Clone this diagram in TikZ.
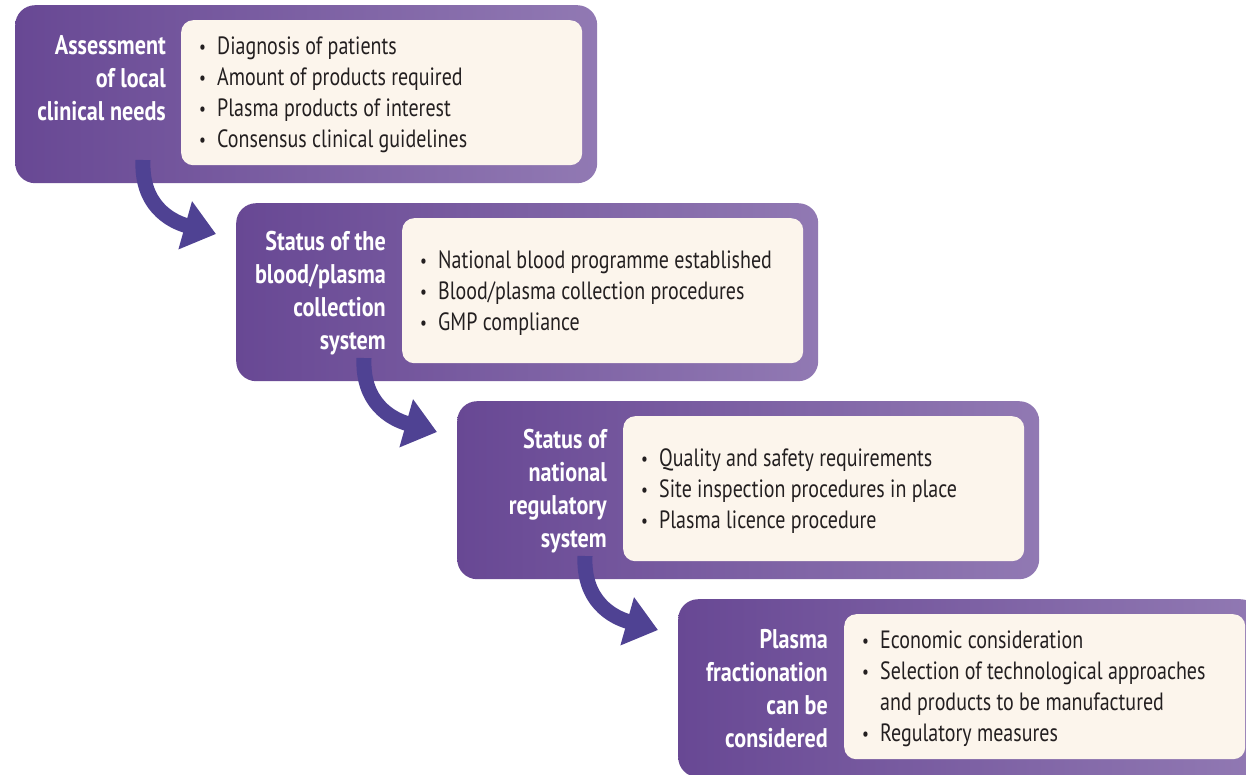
\documentclass[tikz,border=0pt]{standalone}
\usepackage{fontspec}
\setmainfont[FakeStretch=0.8]{PT Sans}
\newfontfamily\titlefont[FakeStretch=0.82]{PT Sans}
\usetikzlibrary{arrows.meta}
\definecolor{pdark}{RGB}{104,72,148}
\definecolor{plight}{RGB}{145,121,179}
\definecolor{cream}{RGB}{252,245,236}
\definecolor{arrowc}{RGB}{79,66,147}
\definecolor{txt}{RGB}{35,31,32}
\newcommand{\bitem}{\makebox[18pt][l]{\raisebox{1pt}{\fontsize{19}{19}\selectfont\textbullet}}}
\newcommand{\bcont}{\hspace*{18pt}}
\begin{document}
\begin{tikzpicture}[x=1pt,y=-1pt,
  outerbox/.style={rounded corners=20pt, left color=pdark, right color=plight, draw=none,
    minimum width=582pt, minimum height=178pt, anchor=north west, inner sep=0pt},
  innerbox/.style={rounded corners=12pt, fill=cream, draw=none,
    minimum width=401pt, minimum height=145pt, anchor=north west, inner sep=0pt},
  titletext/.style={font=\titlefont\fontsize{27}{33}\selectfont\bfseries, text=white, align=right, anchor=east, inner sep=0pt},
  listtext/.style={font=\fontsize{25}{31}\selectfont, text=txt, align=left, anchor=west, inner sep=0pt},
  flow/.style={draw=arrowc, line width=15pt, -{Triangle[length=32pt,width=48pt]}}]
\useasboundingbox (0,0) rectangle (1246,775);
\fill[white] (0,0) rectangle (1246,775);
\clip (0,0) rectangle (1246,775);

% stage 1
\node[outerbox] (b1) at (15,5) {};
\node[innerbox] (i1) at (181,20) {};
\node[titletext] (t1) at (166,78) {Assessment\\of local\\clinical needs};
\node[listtext] (l1) at (199,94.5) {\bitem Diagnosis of patients\\\bitem Amount of products required\\\bitem Plasma products of interest\\\bitem Consensus clinical guidelines};

% stage 2
\node[outerbox] (b2) at (236,203) {};
\node[innerbox] (i2) at (402,218) {};
\node[titletext] (t2) at (386,293) {Status of the\\blood/plasma\\collection\\system};
\node[listtext] (l2) at (420,293) {\bitem National blood programme established\\\bitem Blood/plasma collection procedures\\\bitem GMP compliance};

% stage 3
\node[outerbox] (b3) at (457,401) {};
\node[innerbox] (i3) at (623,416) {};
\node[titletext] (t3) at (607,491) {Status of\\national\\regulatory\\system};
\node[listtext] (l3) at (641,491) {\bitem Quality and safety requirements\\\bitem Site inspection procedures in place\\\bitem Plasma licence procedure};

% stage 4
\node[outerbox] (b4) at (678,599) {};
\node[innerbox] (i4) at (844,614) {};
\node[titletext] (t4) at (828,689) {Plasma\\fractionation\\can be\\considered};
\node[listtext] (l4) at (862,689) {\bitem Economic consideration\\\bitem Selection of technological approaches\\\bcont and products to be manufactured\\\bitem Regulatory measures};

% arrows
\coordinate (s1) at (143,160);
\coordinate (e1) at (216,234);
\coordinate (s2) at (364,358);
\coordinate (e2) at (437,432);
\coordinate (s3) at (585,556);
\coordinate (e3) at (658,630);
\draw[flow] (s1) .. controls (141,205) and (170,221) .. (e1);
\draw[flow] (s2) .. controls (362,403) and (391,419) .. (e2);
\draw[flow] (s3) .. controls (583,601) and (612,617) .. (e3);
\end{tikzpicture}
\end{document}
